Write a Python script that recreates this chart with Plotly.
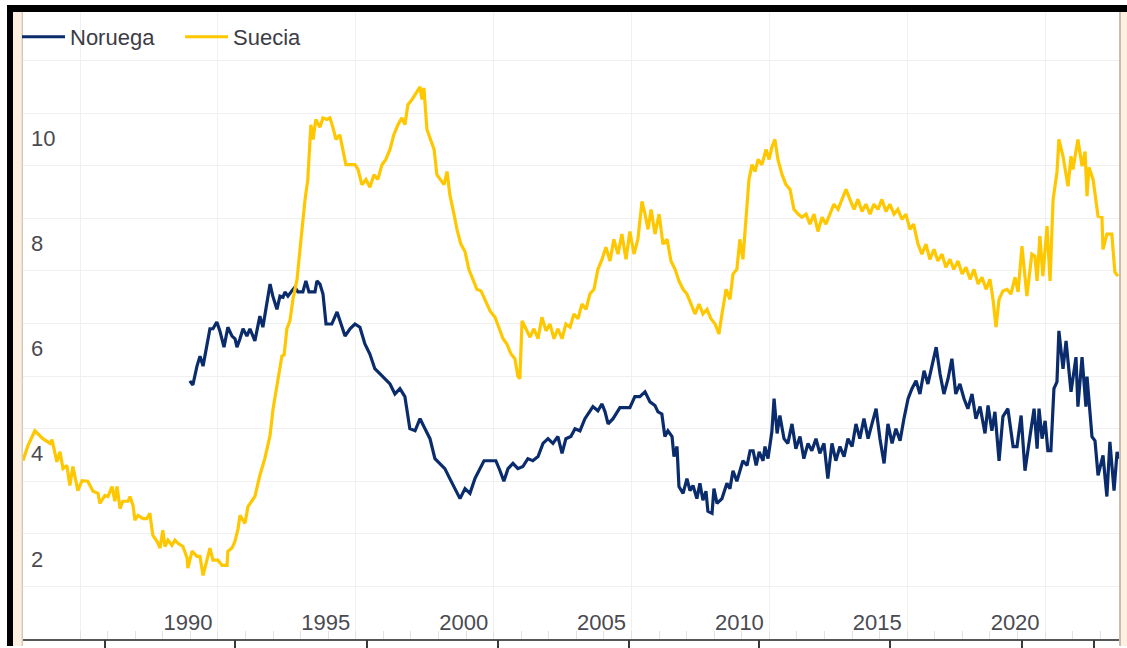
import plotly.graph_objects as go

# ---------------- data ----------------
suecia_year = [1982.93, 1983.11, 1983.36, 1983.65, 1983.91, 1983.98, 1984.16, 1984.27, 1984.38, 1984.52,
               1984.63, 1984.74, 1984.92, 1985.07, 1985.28, 1985.47, 1985.65, 1985.72, 1985.90, 1986.01,
               1986.16, 1986.26, 1986.34, 1986.45, 1986.55, 1986.74, 1986.81, 1986.92, 1986.99, 1987.10,
               1987.28, 1987.42, 1987.53, 1987.64, 1987.79, 1987.90, 1988.00, 1988.08, 1988.19, 1988.33,
               1988.44, 1988.55, 1988.73, 1988.88, 1988.91, 1989.06, 1989.24, 1989.35, 1989.46, 1989.60,
               1989.71, 1989.82, 1990.00, 1990.15, 1990.33, 1990.36, 1990.51, 1990.62, 1990.73, 1990.80,
               1990.98, 1991.09, 1991.23, 1991.34, 1991.52, 1991.70, 1991.89, 1992.00, 1992.32, 1992.40,
               1992.50, 1992.61, 1992.72, 1992.87, 1992.94, 1993.01, 1993.16, 1993.26, 1993.37, 1993.45,
               1993.55, 1993.70, 1993.81, 1993.95, 1994.06, 1994.17, 1994.28, 1994.42, 1994.53, 1994.64,
               1994.79, 1994.97, 1995.08, 1995.22, 1995.37, 1995.51, 1995.66, 1995.80, 1995.95, 1996.09,
               1996.24, 1996.38, 1996.53, 1996.67, 1996.78, 1996.89, 1997.04, 1997.15, 1997.25, 1997.33,
               1997.40, 1997.47, 1997.58, 1997.69, 1997.84, 1997.94, 1998.05, 1998.20, 1998.31, 1998.41,
               1998.56, 1998.67, 1998.81, 1998.96, 1999.10, 1999.25, 1999.39, 1999.54, 1999.68, 1999.87,
               2000.05, 2000.19, 2000.34, 2000.48, 2000.63, 2000.77, 2000.88, 2000.95, 2001.03, 2001.17,
               2001.32, 2001.46, 2001.61, 2001.75, 2001.90, 2002.04, 2002.19, 2002.33, 2002.48, 2002.62,
               2002.77, 2002.91, 2003.06, 2003.20, 2003.35, 2003.49, 2003.64, 2003.78, 2003.93, 2004.07,
               2004.22, 2004.36, 2004.51, 2004.65, 2004.80, 2004.94, 2005.09, 2005.23, 2005.38, 2005.49,
               2005.60, 2005.71, 2005.85, 2006.00, 2006.14, 2006.29, 2006.43, 2006.58, 2006.72, 2006.87,
               2007.01, 2007.16, 2007.30, 2007.45, 2007.59, 2007.74, 2007.88, 2008.03, 2008.17, 2008.28,
               2008.43, 2008.57, 2008.68, 2008.82, 2008.93, 2009.04, 2009.15, 2009.26, 2009.37, 2009.48,
               2009.59, 2009.73, 2009.88, 2009.99, 2010.09, 2010.20, 2010.31, 2010.46, 2010.60, 2010.75,
               2010.89, 2011.04, 2011.18, 2011.33, 2011.47, 2011.62, 2011.76, 2011.91, 2012.05, 2012.20,
               2012.34, 2012.49, 2012.63, 2012.78, 2012.92, 2013.07, 2013.21, 2013.36, 2013.50, 2013.65,
               2013.79, 2013.94, 2014.08, 2014.23, 2014.37, 2014.52, 2014.66, 2014.81, 2014.95, 2015.10,
               2015.23, 2015.39, 2015.53, 2015.68, 2015.82, 2015.97, 2016.11, 2016.26, 2016.40, 2016.55,
               2016.69, 2016.84, 2016.99, 2017.13, 2017.28, 2017.42, 2017.57, 2017.71, 2017.86, 2018.00,
               2018.11, 2018.22, 2018.33, 2018.47, 2018.62, 2018.76, 2018.91, 2019.02, 2019.16, 2019.34,
               2019.52, 2019.63, 2019.71, 2019.81, 2019.92, 2020.07, 2020.18, 2020.29, 2020.43, 2020.50,
               2020.65, 2020.83, 2020.94, 2021.01, 2021.19, 2021.34, 2021.45, 2021.52, 2021.59, 2021.74,
               2021.92, 2022.06, 2022.10, 2022.24, 2022.42, 2022.53, 2022.64]
suecia_val = [3.39, 3.68, 3.96, 3.81, 3.72, 3.79, 3.37, 3.56, 3.24, 3.30,
              2.92, 3.28, 2.82, 3.01, 3.00, 2.81, 2.77, 2.58, 2.73, 2.71,
              2.90, 2.62, 2.90, 2.48, 2.62, 2.62, 2.71, 2.54, 2.26, 2.35,
              2.29, 2.29, 2.39, 1.97, 1.86, 1.73, 2.07, 1.76, 1.88, 1.78,
              1.88, 1.82, 1.76, 1.54, 1.35, 1.67, 1.57, 1.57, 1.21, 1.48,
              1.73, 1.50, 1.50, 1.40, 1.40, 1.67, 1.73, 1.86, 2.10, 2.35,
              2.20, 2.52, 2.64, 2.71, 3.11, 3.43, 3.87, 4.38, 5.38, 5.40,
              5.90, 6.05, 6.46, 6.84, 7.22, 7.60, 8.36, 8.74, 9.78, 9.50,
              9.88, 9.73, 9.91, 9.88, 9.91, 9.73, 9.50, 9.59, 9.31, 9.02,
              9.02, 9.02, 8.93, 8.64, 8.74, 8.59, 8.83, 8.74, 9.02, 9.12,
              9.31, 9.59, 9.78, 9.91, 9.78, 10.16, 10.26, 10.35, 10.45, 10.50,
              10.26, 10.48, 9.69, 9.54, 9.31, 8.83, 8.74, 8.64, 8.89, 8.45,
              8.08, 7.79, 7.51, 7.37, 7.03, 6.84, 6.65, 6.62, 6.46, 6.24,
              6.12, 5.90, 5.71, 5.61, 5.42, 5.33, 4.99, 4.95, 6.05, 5.90,
              5.74, 5.90, 5.71, 6.12, 5.86, 5.99, 5.71, 5.90, 5.71, 5.99,
              5.93, 6.18, 6.09, 6.37, 6.27, 6.56, 6.65, 7.03, 7.22, 7.45,
              7.19, 7.60, 7.32, 7.70, 7.22, 7.75, 7.32, 7.60, 8.32, 8.08,
              7.79, 8.17, 7.70, 8.08, 7.51, 7.60, 7.19, 7.03, 6.81, 6.65,
              6.56, 6.37, 6.18, 6.37, 6.18, 6.27, 6.09, 5.99, 5.80, 6.18,
              6.65, 6.46, 6.94, 7.03, 7.60, 7.22, 8.08, 8.74, 9.02, 8.89,
              9.12, 9.02, 9.31, 9.12, 9.35, 9.50, 9.12, 8.83, 8.64, 8.55,
              8.17, 8.08, 8.02, 8.08, 7.89, 8.08, 7.75, 8.02, 7.89, 8.08,
              8.27, 8.17, 8.36, 8.55, 8.36, 8.17, 8.36, 8.13, 8.27, 8.08,
              8.27, 8.17, 8.36, 8.13, 8.27, 8.08, 8.17, 7.98, 8.08, 7.79,
              7.89, 7.51, 7.32, 7.51, 7.22, 7.41, 7.19, 7.32, 7.07, 7.22,
              7.03, 7.19, 6.94, 7.07, 6.84, 7.03, 6.75, 6.88, 6.65, 6.84,
              6.46, 5.93, 6.46, 6.62, 6.65, 6.56, 6.88, 6.60, 7.47, 6.52,
              7.32, 7.28, 6.81, 7.66, 6.90, 7.85, 6.81, 8.36, 8.87, 9.50,
              9.18, 8.61, 9.18, 8.93, 9.50, 8.99, 9.27, 8.42, 8.97, 8.74,
              8.04, 8.02, 7.41, 7.70, 7.70, 6.98, 6.90]

noruega_year = [1988.98, 1989.09, 1989.24, 1989.35, 1989.46, 1989.60, 1989.71, 1989.82, 1989.96, 1990.07,
                1990.22, 1990.36, 1990.51, 1990.62, 1990.69, 1990.80, 1990.91, 1991.05, 1991.16, 1991.34,
                1991.52, 1991.63, 1991.89, 1991.99, 1992.14, 1992.25, 1992.36, 1992.43, 1992.54, 1992.68,
                1992.79, 1992.90, 1993.08, 1993.19, 1993.30, 1993.52, 1993.59, 1993.70, 1993.81, 1993.92,
                1994.13, 1994.32, 1994.50, 1994.61, 1994.79, 1994.97, 1995.15, 1995.33, 1995.51, 1995.69,
                1995.88, 1996.06, 1996.24, 1996.42, 1996.60, 1996.78, 1996.96, 1997.15, 1997.33, 1997.51,
                1997.69, 1997.87, 1998.05, 1998.23, 1998.41, 1998.60, 1998.78, 1998.96, 1999.14, 1999.32,
                1999.50, 1999.65, 1999.87, 2000.08, 2000.23, 2000.37, 2000.52, 2000.70, 2000.88, 2001.06,
                2001.24, 2001.42, 2001.61, 2001.79, 2001.97, 2002.15, 2002.33, 2002.48, 2002.62, 2002.80,
                2002.95, 2003.13, 2003.31, 2003.60, 2003.78, 2003.93, 2004.04, 2004.15, 2004.33, 2004.58,
                2004.94, 2005.05, 2005.12, 2005.30, 2005.49, 2005.67, 2005.85, 2005.96, 2006.10, 2006.21,
                2006.32, 2006.47, 2006.54, 2006.65, 2006.72, 2006.87, 2007.01, 2007.12, 2007.23, 2007.37,
                2007.48, 2007.59, 2007.70, 2007.77, 2007.92, 2007.99, 2008.10, 2008.28, 2008.46, 2008.57,
                2008.68, 2008.82, 2008.93, 2009.04, 2009.19, 2009.30, 2009.41, 2009.52, 2009.63, 2009.77,
                2009.84, 2009.95, 2010.09, 2010.17, 2010.28, 2010.38, 2010.53, 2010.67, 2010.82, 2010.96,
                2011.11, 2011.25, 2011.40, 2011.54, 2011.69, 2011.83, 2011.98, 2012.12, 2012.27, 2012.41,
                2012.56, 2012.71, 2012.85, 2013.00, 2013.14, 2013.28, 2013.43, 2013.58, 2013.72, 2013.87,
                2014.01, 2014.16, 2014.30, 2014.45, 2014.59, 2014.74, 2014.88, 2015.03, 2015.17, 2015.32,
                2015.46, 2015.61, 2015.75, 2015.90, 2016.05, 2016.19, 2016.33, 2016.48, 2016.62, 2016.76,
                2016.91, 2017.06, 2017.20, 2017.35, 2017.49, 2017.64, 2017.82, 2017.93, 2018.07, 2018.18,
                2018.33, 2018.47, 2018.65, 2018.84, 2018.98, 2019.13, 2019.27, 2019.45, 2019.60, 2019.71,
                2019.78, 2019.89, 2020.00, 2020.10, 2020.21, 2020.32, 2020.43, 2020.50, 2020.65, 2020.76,
                2020.94, 2021.12, 2021.19, 2021.34, 2021.48, 2021.52, 2021.70, 2021.81, 2021.92, 2022.10,
                2022.24, 2022.35, 2022.50, 2022.61, 2022.68]
noruega_val = [4.91, 4.83, 5.19, 5.38, 5.19, 5.57, 5.90, 5.90, 6.03, 5.86,
               5.55, 5.93, 5.76, 5.71, 5.55, 5.71, 5.90, 5.76, 5.90, 5.67,
               6.14, 5.93, 6.75, 6.52, 6.27, 6.52, 6.50, 6.60, 6.52, 6.62,
               6.69, 6.60, 6.60, 6.81, 6.60, 6.60, 6.81, 6.75, 6.56, 5.99,
               5.99, 6.22, 5.95, 5.76, 5.90, 5.99, 5.93, 5.61, 5.42, 5.14,
               5.04, 4.95, 4.85, 4.66, 4.76, 4.61, 4.00, 3.96, 4.19, 4.00,
               3.81, 3.43, 3.34, 3.24, 3.05, 2.86, 2.67, 2.86, 2.77, 3.05,
               3.24, 3.39, 3.39, 3.39, 3.20, 3.00, 3.24, 3.34, 3.24, 3.28,
               3.43, 3.39, 3.47, 3.72, 3.81, 3.72, 3.85, 3.53, 3.81, 3.85,
               4.00, 3.96, 4.19, 4.42, 4.34, 4.47, 4.32, 4.09, 4.19, 4.40,
               4.40, 4.51, 4.61, 4.61, 4.70, 4.51, 4.44, 4.32, 4.28, 3.85,
               3.96, 3.85, 3.47, 3.66, 2.90, 2.77, 3.05, 2.82, 2.92, 2.67,
               2.96, 2.64, 2.81, 2.43, 2.39, 2.86, 2.58, 2.67, 2.96, 2.86,
               3.20, 3.00, 3.20, 3.39, 3.30, 3.58, 3.58, 3.30, 3.56, 3.39,
               3.66, 3.43, 3.94, 4.57, 3.91, 4.25, 3.81, 3.72, 4.09, 3.62,
               3.85, 3.43, 3.72, 3.58, 3.81, 3.53, 3.72, 3.05, 3.72, 3.39,
               3.66, 3.47, 3.81, 3.66, 4.09, 3.81, 4.19, 3.81, 4.09, 4.38,
               3.81, 3.34, 4.09, 3.72, 4.00, 3.77, 4.19, 4.57, 4.76, 4.91,
               4.66, 5.10, 4.85, 5.23, 5.55, 5.04, 4.66, 4.95, 5.33, 4.66,
               4.85, 4.57, 4.38, 4.66, 4.19, 4.42, 3.91, 4.44, 3.96, 4.32,
               3.39, 4.23, 4.38, 3.66, 3.66, 4.25, 3.20, 3.85, 4.38, 3.62,
               4.38, 3.81, 4.15, 3.58, 3.58, 4.76, 4.89, 5.86, 5.14, 5.67,
               4.70, 5.36, 4.42, 5.36, 4.42, 4.99, 3.85, 3.77, 3.11, 3.49,
               2.71, 3.75, 2.82, 3.56, 3.43]

x_tickvals = [1985, 1990, 1995, 2000, 2005, 2010, 2015, 2020]
x_ticktext = ["", "1990", "1995", "2000", "2005", "2010", "2015", "2020"]
y_tickvals = [2, 4, 6, 8, 10]
y_ticktext = ["2", "4", "6", "8", "10"]
# dark marks of the strip below the axis line
under_ticks = [1983.98, 1985.90, 1990.62, 1995.40, 2000.16, 2004.91, 2009.62, 2014.37, 2019.16, 2021.77]

# ---------------- figure ----------------
W, H = 1127, 648
FONT = "Liberation Sans Narrow, Arial Narrow, Liberation Sans, Arial, sans-serif"
FS = 22
TXT = "#4a4a52"
GRID = "#f0f0f0"
XR = [1982.93, 2022.68]


def px(x):
    return x / W


def py(y):
    return 1 - y / H


fig = go.Figure()
fig.add_trace(go.Scatter(x=noruega_year, y=noruega_val, name="Noruega", mode="lines",
                         line=dict(color="#0b2c6c", width=3.2)))
fig.add_trace(go.Scatter(x=suecia_year, y=suecia_val, name="Suecia", mode="lines",
                         line=dict(color="#ffc700", width=3.2)))
# empty helper trace so that the lower tick strip axis is drawn
fig.add_trace(go.Scatter(x=[XR[0]], y=[None], xaxis="x2", mode="lines", showlegend=False,
                         hoverinfo="skip"))

P = dict(xref="paper", yref="paper")
shapes = [
    # left beige strip and frame
    dict(type="rect", x0=px(13), x1=px(22), y0=py(648), y1=py(12), fillcolor="#fdf0e1",
         line=dict(width=0), **P),
    dict(type="line", x0=px(22.3), x1=px(22.3), y0=py(648), y1=py(12),
         line=dict(color="#d6cabd", width=1.5), **P),
    dict(type="rect", x0=px(7), x1=px(13), y0=py(648), y1=py(5), fillcolor="#000000",
         line=dict(width=0), **P),
    dict(type="rect", x0=px(7), x1=px(1127), y0=py(12), y1=py(5), fillcolor="#000000",
         line=dict(width=0), **P),
    # right beige strip
    dict(type="rect", x0=px(1121), x1=px(1127), y0=py(648), y1=py(12), fillcolor="#fdf0e1",
         line=dict(width=0), **P),
    dict(type="line", x0=px(1120), x1=px(1120), y0=py(648), y1=py(12),
         line=dict(color="#c9bdb1", width=2), **P),
]

fig.update_layout(
    width=W, height=H,
    margin=dict(l=0, r=0, t=0, b=0),
    paper_bgcolor="white", plot_bgcolor="white",
    font=dict(family=FONT, size=FS, color=TXT),
    showlegend=True,
    legend=dict(orientation="h", x=px(17), y=py(16), xanchor="left", yanchor="top",
                bgcolor="rgba(0,0,0,0)", font=dict(family=FONT, size=FS, color="#3c3c46"),
                itemwidth=43, entrywidth=105, entrywidthmode="pixels", tracegroupgap=0),
    xaxis=dict(domain=[px(23), px(1119)], range=XR,
               tickvals=x_tickvals, ticktext=x_ticktext,
               showgrid=True, gridcolor=GRID, gridwidth=1,
               ticks="inside", ticklen=8, tickcolor="#e2e2e2",
               ticklabelposition="inside", ticklabelshift=-30, ticklabelstandoff=-2,
               minor=dict(dtick=1, tick0=1985, ticks="inside", ticklen=8, tickcolor="#e2e2e2", showgrid=False),
               showline=True, linecolor="#555555", linewidth=2,
               zeroline=False, tickfont=dict(family=FONT, size=FS, color=TXT)),
    xaxis2=dict(domain=[px(23), px(1119)], range=XR, overlaying="x", anchor="y", side="bottom",
                tickvals=under_ticks, ticks="outside", ticklen=9, tickwidth=2, tickcolor="#3a3a3a",
                showticklabels=False, showgrid=False, showline=False, zeroline=False),
    yaxis=dict(domain=[py(641), py(12)], range=[0, (641 - 12) / 52.75],
               tickvals=y_tickvals, ticktext=y_ticktext,
               showgrid=True, gridcolor=GRID, gridwidth=1,
               minor=dict(dtick=1, tick0=0, showgrid=True, gridcolor=GRID, gridwidth=1, ticks=""),
               ticks="", ticklabelposition="inside", ticklabelshift=25, ticklabelstandoff=5,
               showline=False, zeroline=False, tickfont=dict(family=FONT, size=FS, color=TXT)),
    shapes=shapes,
)

fig.write_html("out.html", config={"displayModeBar": False},
               post_script="document.body.style.margin='0px';")
